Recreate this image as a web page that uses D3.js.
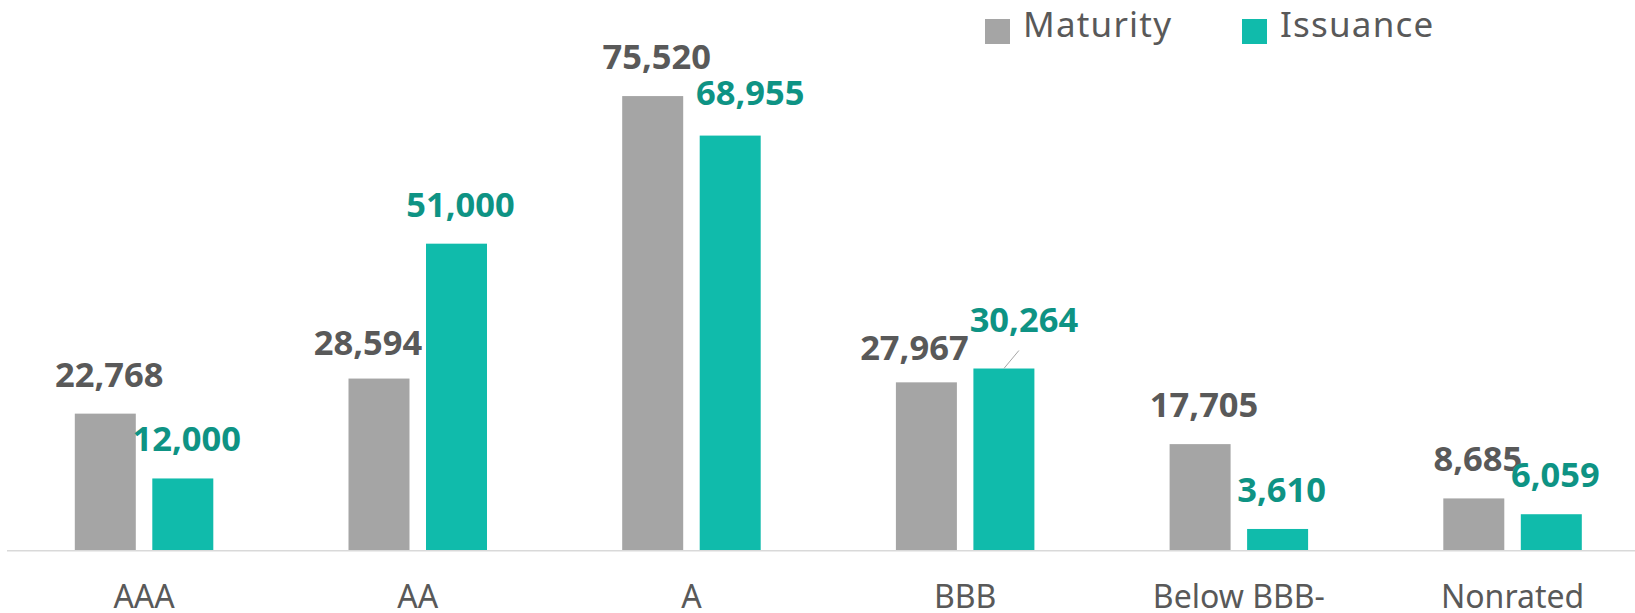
<!DOCTYPE html>
<html>
<head>
  <meta charset="utf-8" />
  <script src="https://d3js.org/d3.v7.min.js"></script>
  <style>
    body {
      margin: 0;
      background: #fff;
      font-family: "Noto Sans", "Open Sans", sans-serif;
    }
    svg {
      display: block;
    }
  </style>
</head>
<body>
  <script>
    var categories = ["AAA", "AA", "A", "BBB", "Below BBB-", "Nonrated"];
    var seriesNames = ["Maturity", "Issuance"];
    var maturity = [22768, 28594, 75520, 27967, 17705, 8685];
    var issuance = [12000, 51000, 68955, 30264, 3610, 6059];

    var colors = { Maturity: "#a5a5a5", Issuance: "#10bbab" };
    var labelColors = { Maturity: "#595959", Issuance: "#0e9384" };

    // hand-moved labels (dx, extra lift) like in the original
    var nudge = {
      "AA|Maturity": [-15, -3],
      "BBB|Maturity": [-16, -5],
      "BBB|Issuance": [16, 10],
      "A|Issuance": [16, 4]
    };

    var width = 1635, height = 613;

    var rows = [];
    categories.forEach(function(c, i) {
      rows.push({ cat: c, series: "Maturity", value: maturity[i] });
      rows.push({ cat: c, series: "Issuance", value: issuance[i] });
    });

    var x0 = d3.scaleBand().domain(categories).range([7.2, 1649.4]);
    var groupW = 138.5;
    var x1 = d3.scaleBand().domain(seriesNames)
      .range([x0.step() / 2 - groupW / 2, x0.step() / 2 + groupW / 2])
      .paddingInner(0.213);
    var y = d3.scaleLinear().domain([0, 90000]).range([550.7, 8.9]);

    var svg = d3.select("body")
      .append("svg")
      .attr("width", width)
      .attr("height", height);

    var fmt = d3.format(",");

    svg.selectAll("rect.bar")
      .data(rows)
      .enter()
      .append("rect")
      .attr("class", "bar")
      .attr("x", function(d) { return x0(d.cat) + x1(d.series); })
      .attr("y", function(d) { return y(d.value); })
      .attr("width", x1.bandwidth())
      .attr("height", function(d) { return y(0) - y(d.value); })
      .attr("fill", function(d) { return colors[d.series]; });

    // baseline
    var xAxis = d3.axisBottom(x0).tickSize(0).tickPadding(0);
    var gx = svg.append("g")
      .attr("transform", "translate(0," + y(0) + ")")
      .call(xAxis);
    gx.select(".domain")
      .attr("d", "M7,0H1635")
      .attr("stroke", "#d9d9d9")
      .attr("stroke-width", 1.5);
    gx.selectAll("text")
      .attr("y", 57)
      .attr("dy", 0)
      .attr("fill", "#595959")
      .style("font-family", "'Noto Sans', sans-serif")
      .style("font-size", "32px");

    // leader line for the moved BBB issuance label
    rows.filter(function(d) { return d.cat == "BBB" && d.series == "Issuance"; })
      .forEach(function(d) {
        var cx = x0(d.cat) + x1(d.series) + x1.bandwidth() / 2;
        svg.append("line")
          .attr("x1", cx)
          .attr("y1", y(d.value))
          .attr("x2", cx + 15)
          .attr("y2", y(d.value) - 18)
          .attr("stroke", "#a6a6a6")
          .attr("stroke-width", 1);
      });

    svg.selectAll("text.val")
      .data(rows)
      .enter()
      .append("text")
      .attr("class", "val")
      .attr("x", function(d) {
        var n = nudge[d.cat + "|" + d.series] || [0, 0];
        return x0(d.cat) + x1(d.series) + x1.bandwidth() / 2 + 4 + n[0];
      })
      .attr("y", function(d) {
        var n = nudge[d.cat + "|" + d.series] || [0, 0];
        return y(d.value) - 27 - n[1];
      })
      .attr("text-anchor", "middle")
      .attr("fill", function(d) { return labelColors[d.series]; })
      .style("font-size", "34.5px")
      .style("font-weight", "bold")
      .text(function(d) { return fmt(d.value); });

    // legend
    var legendX = [985, 1242];
    var legend = svg.selectAll("g.legend")
      .data(seriesNames)
      .enter()
      .append("g")
      .attr("class", "legend")
      .attr("transform", function(d, i) { return "translate(" + legendX[i] + ",19)"; });
    legend.append("rect")
      .attr("width", 25)
      .attr("height", 25)
      .attr("fill", function(d) { return colors[d]; });
    legend.append("text")
      .attr("x", 38)
      .attr("y", 17.7)
      .attr("fill", "#595959")
      .style("font-size", "35px")
      .style("letter-spacing", "1.2px")
      .text(function(d) { return d; });
  </script>
</body>
</html>
